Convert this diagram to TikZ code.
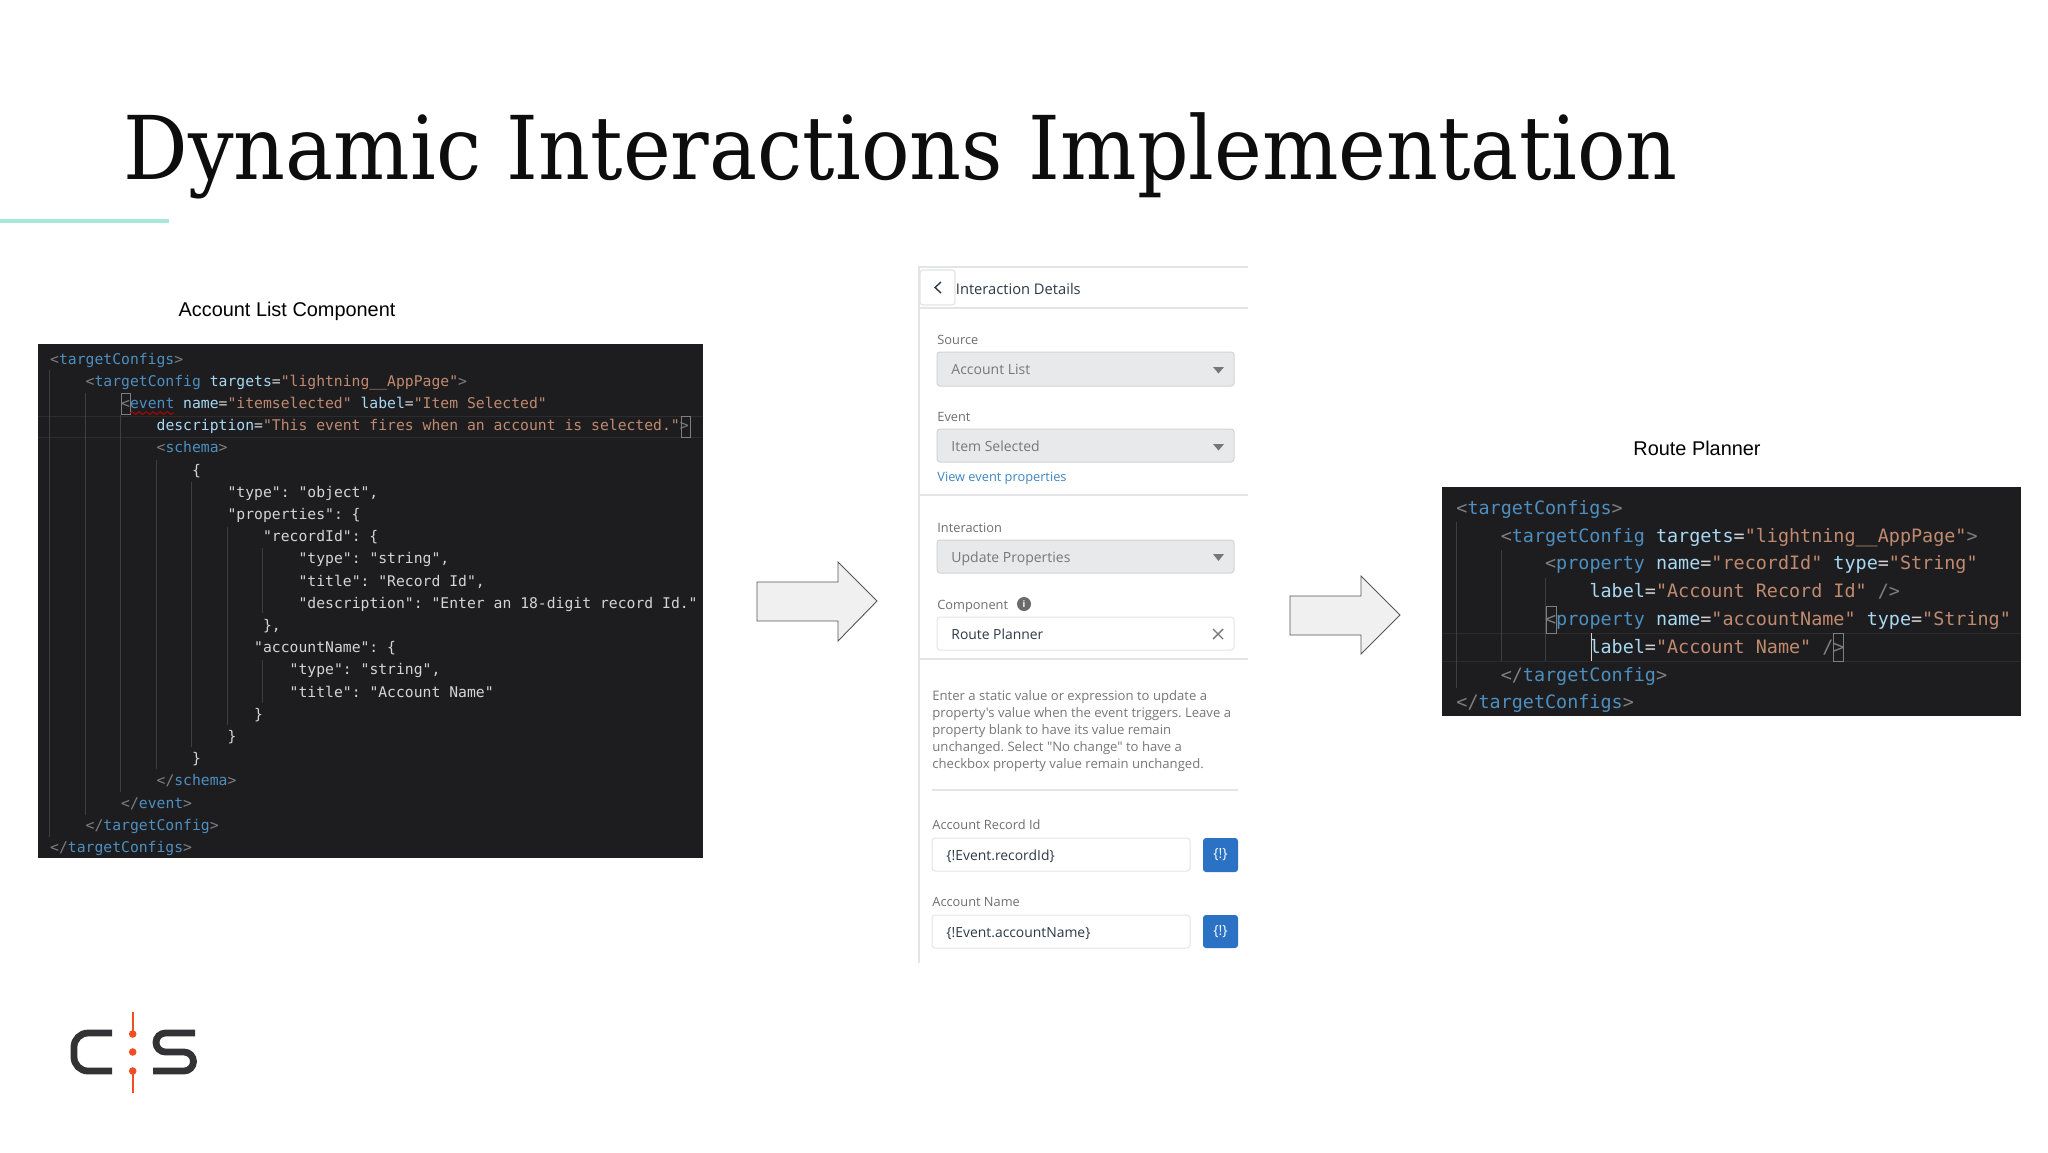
\documentclass[tikz,border=0pt]{standalone}
\usepackage{fontspec}
\setmainfont{Liberation Sans}
\newfontfamily\codefont{DejaVu Sans Mono}
\newfontfamily\titlefont{DejaVu Serif}
\newfontfamily\uifont{Open Sans}
\usetikzlibrary{decorations.pathmorphing}
\definecolor{codebg}{HTML}{1D1D20}
\definecolor{cbr}{HTML}{7F7F7F}
\definecolor{ctag}{HTML}{4D8FC0}
\definecolor{cattr}{HTML}{A9D8F2}
\definecolor{cstr}{HTML}{C08A6E}
\definecolor{ctxt}{HTML}{D4D4D4}
\definecolor{cguide}{HTML}{3E3E40}
\definecolor{cline}{HTML}{2C2C2E}
\definecolor{uigrey}{HTML}{777777}
\definecolor{uilabel}{HTML}{6E6E6E}
\definecolor{uiline}{HTML}{E3E4E6}
\definecolor{uifill}{HTML}{E8E9EB}
\definecolor{uiborder}{HTML}{D2D3D6}
\definecolor{uidark}{HTML}{2E3A48}
\definecolor{uiblue}{HTML}{2B72C4}
\definecolor{uilink}{HTML}{3F86C0}
\definecolor{orangelogo}{HTML}{F04E23}
\definecolor{greylogo}{HTML}{333335}
\definecolor{accent}{HTML}{A8E8D8}
\definecolor{arrowfill}{HTML}{F0F0F1}
\definecolor{arrowline}{HTML}{555555}
\newcommand{\cB}[1]{\textcolor{cbr}{#1}}
\newcommand{\cT}[1]{\textcolor{ctag}{#1}}
\newcommand{\cA}[1]{\textcolor{cattr}{#1}}
\newcommand{\cS}[1]{\textcolor{cstr}{#1}}
\newcommand{\cX}[1]{\textcolor{ctxt}{#1}}
\newcommand{\codeL}[4]{\node[codesmall] (#1) at ({49.8+8.87*#2},{364+22.2*#3}) {#4};}
\newcommand{\codeR}[4]{\node[codebig] (#1) at ({1456+11.09*#2},{514.3+27.8*#3}) {#4};}
\newcommand{\guide}[3]{\draw[guideline] (#1,#2) -- (#1,#3);}
\frenchspacing
\tikzset{
  x=0.5pt,y=-0.5pt,
  codesmall/.style={anchor=base west,inner sep=0pt,font=\codefont\fontsize{7.365}{9}\selectfont},
  codebig/.style={anchor=base west,inner sep=0pt,font=\codefont\fontsize{9.21}{11}\selectfont},
  guideline/.style={draw=cguide,line width=0.45pt},
  curline/.style={draw=cline,line width=0.5pt},
  matchbox/.style={draw=cbr,line width=0.5pt},
  uitext/.style={anchor=base west,inner sep=0pt,font=\uifont\fontsize{6.4}{8}\selectfont,text=uilabel},
  uival/.style={uitext,font=\uifont\fontsize{7}{8}\selectfont,text=uigrey},
  uidarktext/.style={uitext,font=\uifont\fontsize{6.95}{8}\selectfont,text=uidark},
  uipara/.style={uitext,font=\uifont\fontsize{6.55}{8}\selectfont,text=uigrey},
  uidiv/.style={draw=uiline,line width=0.6pt},
  selectbox/.style={fill=uifill,draw=uiborder,line width=0.5pt,rounded corners=1.5pt},
  inputbox/.style={fill=white,draw=uiline,line width=0.5pt,rounded corners=1.5pt},
  blockarrow/.style={fill=arrowfill,draw=arrowline,line width=0.45pt,line join=miter},
  caption/.style={inner sep=0pt,font=\fontsize{9.95}{12}\selectfont,text=black},
  btntext/.style={inner sep=0pt,text=white,font=\uifont\fontsize{7}{8}\selectfont},
}
\begin{document}
\begin{tikzpicture}
\useasboundingbox (0,0) rectangle (2048,1152);
\fill[white] (0,0) rectangle (2048,1152);

% title
\node[anchor=base west,inner sep=0pt,text=black!95] (title) at (123,179)
  {\titlefont\fontsize{44}{50}\selectfont\scalebox{0.917}[1]{Dynamic Interactions Implementation}};
\draw[accent,line width=2pt] (0,221) -- (169,221);

% captions
\node[caption] (cap1) at (287,311) {Account List Component};
\node[caption] (cap2) at (1697,448) {Route Planner};

% left code panel
\fill[codebg] (38,344) rectangle (703,858);
\draw[curline] (38,416) -- (703,416) (38,437) -- (703,437);
\guide{49.8}{370}{837}
\guide{85.3}{393}{815}
\guide{120.8}{415}{792}
\guide{156.3}{460}{769}
\guide{191.8}{482}{747}
\guide{227.2}{527}{725}
\guide{262.7}{548}{613}
\guide{262.7}{660}{703}
\draw[matchbox] (121.5,393) rectangle (130,414);
\draw[matchbox] (681,416) rectangle (690,437);
\draw[red!70!black,line width=0.5pt,decorate,decoration={snake,amplitude=0.7pt,segment length=3.5pt}] (130,413) -- (174,413);
\codeL{l0}{0}{0}{\cB{<}\cT{targetConfigs}\cB{>}}
\codeL{l1}{4}{1}{\cB{<}\cT{targetConfig} \cA{targets}\cX{=}\cS{"lightning\_\_AppPage"}\cB{>}}
\codeL{l2}{8}{2}{\cB{<}\cT{event} \cA{name}\cX{=}\cS{"itemselected"} \cA{label}\cX{=}\cS{"Item Selected"}}
\codeL{l3}{12}{3}{\cA{description}\cX{=}\cS{"This event fires when an account is selected."}\cB{>}}
\codeL{l4}{12}{4}{\cB{<}\cT{schema}\cB{>}}
\codeL{l5}{16}{5}{\cX{\{}}
\codeL{l6}{20}{6}{\cX{"type": "object",}}
\codeL{l7}{20}{7}{\cX{"properties": \{}}
\codeL{l8}{24}{8}{\cX{"recordId": \{}}
\codeL{l9}{28}{9}{\cX{"type": "string",}}
\codeL{l10}{28}{10}{\cX{"title": "Record Id",}}
\codeL{l11}{28}{11}{\cX{"description": "Enter an 18-digit record Id."}}
\codeL{l12}{24}{12}{\cX{\},}}
\codeL{l13}{23}{13}{\cX{"accountName": \{}}
\codeL{l14}{27}{14}{\cX{"type": "string",}}
\codeL{l15}{27}{15}{\cX{"title": "Account Name"}}
\codeL{l16}{23}{16}{\cX{\}}}
\codeL{l17}{20}{17}{\cX{\}}}
\codeL{l18}{16}{18}{\cX{\}}}
\codeL{l19}{12}{19}{\cB{</}\cT{schema}\cB{>}}
\codeL{l20}{8}{20}{\cB{</}\cT{event}\cB{>}}
\codeL{l21}{4}{21}{\cB{</}\cT{targetConfig}\cB{>}}
\codeL{l22}{0}{22}{\cB{</}\cT{targetConfigs}\cB{>}}

% arrows
\draw[blockarrow] (757,582) -- (838,582) -- (838,562) -- (877,601) -- (838,641) -- (838,621) -- (757,621) -- cycle;
\draw[blockarrow] (1290,596) -- (1361,596) -- (1361,576) -- (1400,615) -- (1361,654) -- (1361,635) -- (1290,635) -- cycle;

% UI panel
\draw[uidiv] (1248,267) -- (919,267) -- (919,963);
\draw[uidiv] (919,308) -- (1248,308);
\draw[uidiv] (919,495) -- (1248,495);
\draw[uidiv] (919,659) -- (1248,659);
\draw[uidiv] (932,790) -- (1238,790);
\draw[fill=white,draw=uiline,line width=0.6pt,rounded corners=1.5pt] (920,270) rectangle (955,305);
\draw[uidark,line width=0.7pt] (941,282) -- (935,287.5) -- (941,293);
\node[uidarktext,font=\uifont\fontsize{7.35}{8}\selectfont] (hd) at (955.5,294) {Interaction Details};
\node[uitext] (src) at (937,344) {Source};
\draw[selectbox] (937,352) rectangle (1234,386);
\node[uival] (srcv) at (951,374) {Account List};
\fill[uigrey] (1213,367) -- (1224,367) -- (1218.5,373.5) -- cycle;
\node[uitext] (evt) at (937,421) {Event};
\draw[selectbox] (937,429) rectangle (1234,462);
\node[uival] (evtv) at (951,451) {Item Selected};
\fill[uigrey] (1213,444) -- (1224,444) -- (1218.5,450.5) -- cycle;
\node[uitext,text=uilink] (view) at (937,481) {View event properties};
\node[uitext] (int) at (937,532) {Interaction};
\draw[selectbox] (937,540) rectangle (1234,573);
\node[uival] (intv) at (951,562) {Update Properties};
\fill[uigrey] (1213,554) -- (1224,554) -- (1218.5,561) -- cycle;
\node[uitext] (comp) at (937,609) {Component};
\fill[uigrey!90!black] (1024,604) circle[radius=7];
\node[inner sep=0pt,text=white,font=\uifont\bfseries\fontsize{4.5}{5}\selectfont] (info) at (1024,604) {i};
\draw[inputbox] (937,617) rectangle (1234,650);
\node[uidarktext] (compv) at (951,639) {Route Planner};
\draw[uigrey,line width=0.7pt] (1213,629) -- (1223,639) (1223,629) -- (1213,639);
\node[uipara] (p1) at (932,700) {Enter a static value or expression to update a};
\node[uipara] (p2) at (932,717) {property's value when the event triggers. Leave a};
\node[uipara] (p3) at (932,734) {property blank to have its value remain};
\node[uipara] (p4) at (932,751) {unchanged. Select "No change" to have a};
\node[uipara] (p5) at (932,768.5) {checkbox property value remain unchanged.};
\node[uitext] (arid) at (932,829.5) {Account Record Id};
\draw[inputbox] (932,838) rectangle (1190,871);
\node[uidarktext] (aridv) at (946,860) {\{!Event.recordId\}};
\fill[uiblue,rounded corners=1.5pt] (1203,838) rectangle (1238,872);
\node[btntext] (b1) at (1220.5,855) {\{!\}};
\node[uitext] (an) at (932,906.5) {Account Name};
\draw[inputbox] (932,915) rectangle (1190,948);
\node[uidarktext] (anv) at (946,937) {\{!Event.accountName\}};
\fill[uiblue,rounded corners=1.5pt] (1203,915) rectangle (1238,948);
\node[btntext] (b2) at (1220.5,932) {\{!\}};

% right code panel
\fill[codebg] (1442,487) rectangle (2021,716);
\draw[curline] (1442,633) -- (2021,633) (1442,661) -- (2021,661);
\guide{1456}{522}{688}
\guide{1501}{550}{661}
\guide{1545.5}{578}{661}
\draw[draw=ctxt,line width=0.7pt] (1591.6,633) -- (1591.6,661);
\draw[matchbox] (1546,606) rectangle (1556,633);
\draw[matchbox] (1833,633) rectangle (1843,661);
\codeR{r0}{0}{0}{\cB{<}\cT{targetConfigs}\cB{>}}
\codeR{r1}{4}{1}{\cB{<}\cT{targetConfig} \cA{targets}\cX{=}\cS{"lightning\_\_AppPage"}\cB{>}}
\codeR{r2}{8}{2}{\cB{<}\cT{property} \cA{name}\cX{=}\cS{"recordId"} \cA{type}\cX{=}\cS{"String"}}
\codeR{r3}{12}{3}{\cA{label}\cX{=}\cS{"Account Record Id"} \cB{/>}}
\codeR{r4}{8}{4}{\cB{<}\cT{property} \cA{name}\cX{=}\cS{"accountName"} \cA{type}\cX{=}\cS{"String"}}
\codeR{r5}{12}{5}{\cA{label}\cX{=}\cS{"Account Name"} \cB{/>}}
\codeR{r6}{4}{6}{\cB{</}\cT{targetConfig}\cB{>}}
\codeR{r7}{0}{7}{\cB{</}\cT{targetConfigs}\cB{>}}

% logo
\draw[greylogo,line width=3.4pt,rounded corners=7pt] (112,1033) -- (74,1033) -- (74,1071) -- (112,1071);
\draw[greylogo,line width=3.4pt] (195,1033) -- (165.5,1033) arc[start angle=270,end angle=90,radius=9.5] -- (184,1052) arc[start angle=-90,end angle=90,radius=9.5] -- (153,1071);
\draw[orangelogo,line width=1pt] (132.7,1012) -- (132.7,1034) (132.7,1071) -- (132.7,1093);
\fill[orangelogo] (132.7,1034) circle[radius=3.8] (132.7,1052) circle[radius=3.8] (132.7,1071) circle[radius=3.8];
\end{tikzpicture}
\end{document}
